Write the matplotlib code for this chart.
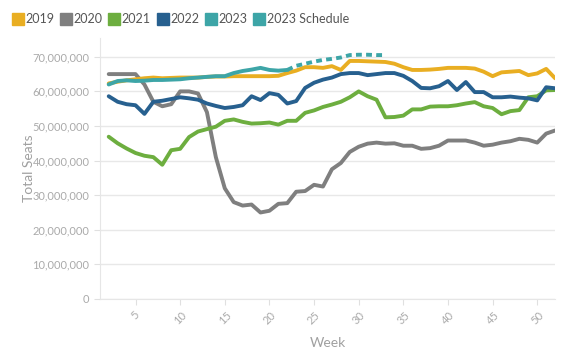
import matplotlib
matplotlib.use('Agg')
import matplotlib.pyplot as plt
from matplotlib.lines import Line2D
from matplotlib.ticker import FuncFormatter

plt.rcParams['font.family'] = ['Lato', 'DejaVu Sans']

## donnees (millions de sieges)
weeks = list(range(2, 53))

s2019 = [62.3, 62.8, 63.2, 63.5, 63.8, 64.0, 63.8, 63.9, 64.0, 64.0, 64.0, 64.2, 64.3, 64.3,
         64.4, 64.4, 64.4, 64.4, 64.4, 64.5, 65.3, 66.0, 67.0, 67.0, 66.8, 67.3, 66.2, 68.8,
         68.8, 68.7, 68.6, 68.5, 68.0, 67.0, 66.2, 66.2, 66.3, 66.5, 66.8, 66.8, 66.8, 66.6,
         65.7, 64.4, 65.5, 65.7, 65.9, 64.7, 65.2, 66.5, 63.8]

s2020 = [65.0, 65.0, 65.0, 65.0, 62.0, 57.0, 55.7, 56.3, 60.0, 60.0, 59.4, 54.0, 41.0, 32.0,
         28.0, 27.0, 27.3, 25.0, 25.5, 27.5, 27.7, 31.0, 31.2, 33.0, 32.5, 37.5, 39.3, 42.5,
         44.0, 44.9, 45.2, 44.9, 45.0, 44.3, 44.3, 43.4, 43.6, 44.3, 45.8, 45.8, 45.8, 45.2,
         44.3, 44.6, 45.2, 45.6, 46.3, 46.0, 45.2, 47.8, 48.7]

s2021 = [46.9, 45.0, 43.5, 42.2, 41.4, 41.0, 38.8, 43.0, 43.4, 46.8, 48.4, 49.1, 49.8, 51.5,
         51.9, 51.2, 50.7, 50.8, 51.0, 50.4, 51.5, 51.5, 53.8, 54.5, 55.5, 56.2, 57.0, 58.3,
         60.0, 58.6, 57.6, 52.5, 52.6, 53.0, 54.8, 54.8, 55.6, 55.7, 55.7, 56.0, 56.5, 56.9,
         55.7, 55.2, 53.4, 54.3, 54.6, 58.3, 58.6, 60.3, 60.4]

s2022 = [58.6, 57.0, 56.3, 56.0, 53.5, 57.0, 57.3, 57.8, 58.3, 58.0, 57.6, 56.5, 55.8, 55.2,
         55.5, 56.0, 58.6, 57.5, 59.5, 59.0, 56.5, 57.2, 61.0, 62.5, 63.4, 64.0, 65.0, 65.3,
         65.3, 64.7, 65.0, 65.3, 65.3, 64.5, 63.0, 61.0, 60.9, 61.5, 63.0, 60.4, 62.7, 59.8,
         59.8, 58.3, 58.3, 58.5, 58.2, 58.0, 57.4, 61.2, 60.9]

weeks2023 = list(range(2, 23))
s2023 = [62.0, 63.0, 63.2, 63.0, 63.1, 63.3, 63.3, 63.4, 63.5, 63.8, 64.0, 64.2, 64.4, 64.4,
         65.3, 65.9, 66.3, 66.8, 66.2, 66.0, 66.2]

weeks_sched = list(range(22, 34))
s2023_sched = [66.2, 67.4, 68.0, 68.6, 69.1, 69.4, 69.8, 70.5, 70.6, 70.6, 70.5, 70.5]

labels = ['2019', '2020', '2021', '2022', '2023', '2023 Schedule']
couleurs = ['#E9AE22', '#7F7F7F', '#6DAE3F', '#27608F', '#3DA5A7', '#3DA5A7']

fig = plt.figure(figsize=(5.67, 3.53), dpi=100)
ax = fig.add_axes([0.176, 0.153, 0.803, 0.74])

lw = 2.8
ax.plot(weeks, s2020, color=couleurs[1], lw=lw, solid_joinstyle='round', solid_capstyle='round')
ax.plot(weeks, s2021, color=couleurs[2], lw=lw, solid_joinstyle='round', solid_capstyle='round')
ax.plot(weeks, s2022, color=couleurs[3], lw=lw, solid_joinstyle='round', solid_capstyle='round')
ax.plot(weeks, s2019, color=couleurs[0], lw=lw, solid_joinstyle='round', solid_capstyle='round')
ax.plot(weeks2023, s2023, color=couleurs[4], lw=lw, solid_joinstyle='round', solid_capstyle='round')
ax.plot(weeks_sched, s2023_sched, color=couleurs[5], lw=lw, linestyle=(0, (1.5, 1.1)))

ax.set_xlim(1, 52)
ax.set_ylim(0, 75.5)
ax.set_yticks(range(0, 71, 10))
ax.yaxis.set_major_formatter(FuncFormatter(lambda v, p: '{:,}'.format(int(v * 1e6))))
ax.set_xticks(range(5, 51, 5))
for lab in ax.get_xticklabels():
    lab.set_rotation(45)

ax.grid(axis='y', color='#E8E8E8', lw=1)
ax.set_axisbelow(True)
for s in ['top', 'right']:
    ax.spines[s].set_visible(False)
for s in ['left', 'bottom']:
    ax.spines[s].set_color('#E6E6E6')
ax.tick_params(colors='#E0E0E0', labelcolor='#AAAAAA', labelsize=8, length=4)

ax.set_xlabel('Week', color='#A0A0A0', fontsize=10, labelpad=8)
ax.set_ylabel('Total Seats', color='#A0A0A0', fontsize=10)
ax.yaxis.set_label_coords(-0.142, 0.5)

handles = [Line2D([], [], marker='s', linestyle='none', markersize=9, color=c) for c in couleurs]
fig.legend(handles, labels, loc='upper left', bbox_to_anchor=(0.0, 0.995), ncol=6, frameon=False,
           handletextpad=0.1, columnspacing=0.45, handlelength=1.0, fontsize=9,
           labelcolor='#555555', borderaxespad=0.5)

fig.savefig('out.png', dpi=100)
